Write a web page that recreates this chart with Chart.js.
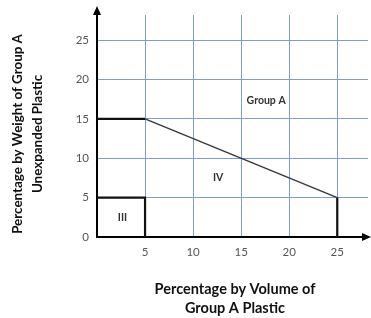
<!DOCTYPE html>
<html><head><meta charset="utf-8">
<script src="https://cdn.jsdelivr.net/npm/chart.js@4/dist/chart.umd.min.js"></script>
<style>html,body{margin:0;padding:0;background:#fff}#wrap{width:371px;height:318px}</style>
</head><body><div id="wrap"><canvas id="c" width="371" height="318"></canvas></div>
<script>
const xTicks = [5, 10, 15, 20, 25];
const yTicks = [0, 5, 10, 15, 20, 25];
const topBoundary = [{x:0,y:15},{x:5,y:15}];
const slopeBoundary = [{x:5,y:15},{x:25,y:5}];
const rightBoundary = [{x:25,y:5},{x:25,y:0}];
const boxIII = [{x:0,y:5},{x:5,y:5},{x:5,y:0}];
const regionLabels = ["Group A", "IV", "III"];
const regionX = [17.6, 12.6, 2.65];
const regionY = [17.3, 7.5, 2.4];
const xTitle = ["Percentage by Volume of", "Group A Plastic"];
const yTitle = ["Percentage by Weight of Group A", "Unexpanded Plastic"];

const FONT = "Lato, 'Open Sans', sans-serif";

const overlay = {
  id: 'overlay',
  afterDraw(chart) {
    const ctx = chart.ctx, xs = chart.scales.x, ys = chart.scales.y, ca = chart.chartArea;
    ctx.save();
    ctx.fillStyle = '#000';
    const x0 = xs.getPixelForValue(0), y0 = ys.getPixelForValue(0);
    ctx.beginPath(); ctx.moveTo(x0, 6); ctx.lineTo(x0 - 4, 15); ctx.lineTo(x0 + 4, 15); ctx.closePath(); ctx.fill();
    ctx.beginPath(); ctx.moveTo(371, y0); ctx.lineTo(362, y0 - 4); ctx.lineTo(362, y0 + 4); ctx.closePath(); ctx.fill();
    ctx.strokeStyle = '#000'; ctx.lineWidth = 2;
    ctx.beginPath(); ctx.moveTo(x0, ca.top); ctx.lineTo(x0, 12); ctx.stroke();
    ctx.beginPath(); ctx.moveTo(ca.right, y0); ctx.lineTo(364, y0); ctx.stroke();
    ctx.fillStyle = '#333';
    ctx.font = "bold 10.5px " + FONT;
    ctx.textAlign = 'center'; ctx.textBaseline = 'middle';
    regionLabels.forEach((t, i) => ctx.fillText(t, xs.getPixelForValue(regionX[i]), ys.getPixelForValue(regionY[i])));
    ctx.fillStyle = '#111';
    ctx.font = "bold 14.5px " + FONT;
    ctx.fillText(xTitle[0], 235, 289);
    ctx.fillText(xTitle[1], 235, 308);
    ctx.font = "bold 13.4px " + FONT;
    ctx.translate(0, 134); ctx.rotate(-Math.PI / 2);
    ctx.fillText(yTitle[0], 0, 18);
    ctx.fillText(yTitle[1], 0, 38);
    ctx.restore();
  }
};

const gridColor = '#7E9BD8';
new Chart(document.getElementById('c'), {
  type: 'scatter',
  data: {
    datasets: [
      {data: topBoundary, showLine: true, borderColor: '#111', borderWidth: 2.2, pointRadius: 0},
      {data: slopeBoundary, showLine: true, borderColor: '#3a3a3a', borderWidth: 1.5, pointRadius: 0},
      {data: rightBoundary, showLine: true, borderColor: '#111', borderWidth: 2.2, pointRadius: 0},
      {data: boxIII, showLine: true, borderColor: '#111', borderWidth: 2.2, pointRadius: 0}
    ]
  },
  options: {
    responsive: false, animation: false,
    layout: {padding: {top: 10, right: 3, left: 0, bottom: 0}},
    plugins: {legend: {display: false}, tooltip: {enabled: false}},
    scales: {
      x: {
        type: 'linear', min: 0, max: 28.2,
        afterFit(s) { s.height = 81; },
        afterBuildTicks(s) { s.ticks = xTicks.map(v => ({value: v})); },
        ticks: {color: '#555', font: {family: FONT, size: 11.5}, padding: 8},
        grid: {color: gridColor, lineWidth: 1, drawTicks: false},
        border: {color: '#000', width: 2}
      },
      y: {
        type: 'linear', min: 0, max: 28.2,
        afterFit(s) { s.width = 97; },
        afterBuildTicks(s) { s.ticks = yTicks.map(v => ({value: v})); },
        ticks: {color: '#555', font: {family: FONT, size: 11.5}, padding: 8},
        grid: {color: gridColor, lineWidth: 1, drawTicks: false},
        border: {color: '#000', width: 2}
      }
    }
  },
  plugins: [overlay]
});
</script></body></html>
